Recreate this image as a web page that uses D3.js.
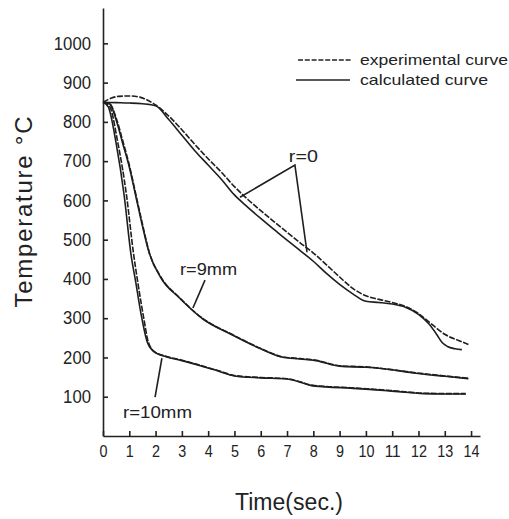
<!DOCTYPE html>
<html>
<head>
<meta charset="utf-8">
<script src="https://cdn.jsdelivr.net/npm/d3@7"></script>
<style>
  body { margin: 0; background: #fff; }
  svg text { font-family: "Liberation Sans", "DejaVu Sans", sans-serif; fill: #222; }
</style>
</head>
<body>
<div id="chart"></div>
<script>
// cooling curves
let xTicks = [0, 1, 2, 3, 4, 5, 6, 7, 8, 9, 10, 11, 12, 13, 14];
let yTicks = [100, 200, 300, 400, 500, 600, 700, 800, 900, 1000];

// r = 0 (centre)
let r0ExpTime = [0, 0.3, 0.6, 1.0, 1.4, 1.7, 2.0, 2.5, 3, 3.5, 4, 4.5, 5, 5.5, 6, 6.5, 7, 7.5, 8, 8.5, 9, 9.5, 10, 10.5, 11, 11.5, 12, 12.5, 13, 13.5, 13.9];
let r0ExpTemp = [850, 860, 865, 866, 863, 855, 843, 815, 780, 742, 706, 672, 635, 603, 574, 546, 519, 492, 466, 436, 405, 376, 357, 348, 340, 330, 312, 285, 259, 244, 233];
let r0CalcTime = [0, 0.5, 1, 1.5, 2, 2.5, 3, 3.5, 4, 4.5, 5, 5.5, 6, 6.5, 7, 7.5, 8, 8.5, 9, 9.5, 10, 10.5, 11, 11.5, 12, 12.4, 12.7, 12.9, 13.1, 13.4, 13.65];
let r0CalcTemp = [850, 849, 848, 846, 841, 806, 766, 726, 690, 654, 614, 583, 554, 526, 499, 472, 445, 414, 386, 362, 343, 340, 336, 328, 310, 285, 258, 238, 228, 222, 220];

// r = 9mm
let r9Time = [0, 0.25, 0.5, 0.75, 1.0, 1.25, 1.5, 1.75, 2.2, 2.9, 3.8, 4.9, 6.0, 6.8, 7.5, 8.1, 9.0, 10.0, 10.6, 11.9, 13.0, 13.9];
let r9CalcTemp = [850, 846, 805, 745, 685, 610, 535, 468, 403, 352, 298, 258, 222, 201, 196, 192, 178, 175, 172, 160, 152, 146];
let r9ExpTemp = [850, 847, 810, 752, 690, 615, 540, 470, 405, 353, 299, 259, 223, 202, 197, 193, 179, 176, 172, 161, 153, 147];

// r = 10mm
let r10CalcTime = [0, 0.2, 0.5, 0.8, 1.07, 1.25, 1.45, 1.67, 1.9, 2.4, 3.0, 3.7, 4.4, 5.0, 6.0, 7.0, 7.5, 7.9, 8.5, 9.4, 10.9, 12.2, 13.0, 13.8];
let r10CalcTemp = [850, 838, 745, 615, 460, 390, 310, 242, 217, 202, 192, 179, 165, 153, 148, 145, 137, 129, 125, 122, 115, 108, 107, 107];
let r10ExpTime = [0, 0.25, 0.55, 0.9, 1.15, 1.35, 1.55, 1.72, 1.95, 2.4, 3.0, 3.7, 4.4, 5.0, 6.0, 7.0, 7.5, 7.9, 8.5, 9.4, 10.9, 12.2, 13.0, 13.8];
let r10ExpTemp = [850, 840, 752, 610, 470, 380, 300, 240, 215, 203, 193, 180, 166, 154, 149, 146, 138, 130, 126, 123, 116, 109, 108, 108];

let width = 509, height = 519;

let svg = d3.select("#chart").append("svg")
    .attr("width", width)
    .attr("height", height);

let x = d3.scaleLinear()
    .domain([0, 14.34])
    .range([103, 480]);

let y = d3.scaleLinear()
    .domain([0, 1090])
    .range([436, 8]);

// axes, ticks pointing inwards
let xAxis = svg.append("g")
    .attr("transform", "translate(0," + y(0) + ")")
    .call(d3.axisBottom(x).tickValues(xTicks).tickFormat(d3.format("d"))
        .tickSize(-5).tickSizeOuter(0).tickPadding(9));

let yAxis = svg.append("g")
    .attr("transform", "translate(" + x(0) + ",0)")
    .call(d3.axisLeft(y).tickValues(yTicks).tickFormat(d3.format("d"))
        .tickSize(-5).tickSizeOuter(0).tickPadding(12));

svg.selectAll(".domain, .tick line")
    .attr("stroke", "#222")
    .attr("stroke-width", 1.6);

xAxis.selectAll(".tick text")
    .attr("font-size", 17)
    .attr("textLength", d => String(d).length * 8)
    .attr("lengthAdjust", "spacingAndGlyphs");

yAxis.selectAll(".tick text")
    .attr("font-size", 18)
    .attr("textLength", d => String(d).length * 9.3)
    .attr("lengthAdjust", "spacingAndGlyphs");

// axis titles
svg.append("text")
    .attr("transform", "translate(32,212) rotate(-90)")
    .attr("text-anchor", "middle")
    .attr("font-size", 24)
    .attr("textLength", 191)
    .attr("lengthAdjust", "spacing")
    .text("Temperature °C");

svg.append("text")
    .attr("x", 289)
    .attr("y", 510)
    .attr("text-anchor", "middle")
    .attr("font-size", 23)
    .attr("textLength", 108)
    .attr("lengthAdjust", "spacing")
    .text("Time(sec.)");

// curves
let line = d3.line()
    .x(d => x(d[0]))
    .y(d => y(d[1]))
    .curve(d3.curveMonotoneX);

let curves = [
    {t: r0CalcTime, v: r0CalcTemp, exp: false},
    {t: r0ExpTime, v: r0ExpTemp, exp: true},
    {t: r9Time, v: r9CalcTemp, exp: false},
    {t: r9Time, v: r9ExpTemp, exp: true},
    {t: r10CalcTime, v: r10CalcTemp, exp: false},
    {t: r10ExpTime, v: r10ExpTemp, exp: true}
];

svg.selectAll(".curve")
    .data(curves)
    .enter().append("path")
    .attr("class", "curve")
    .attr("fill", "none")
    .attr("stroke", "#1e1e1e")
    .attr("stroke-width", 1.6)
    .attr("stroke-dasharray", d => d.exp ? "6,1.5" : null)
    .attr("d", d => line(d.t.map((t, i) => [t, d.v[i]])));

// leader lines for the labels, in data units
let leaders = [
    [[5.21, 608], [7.30, 690], [7.76, 468]],
    [[3.88, 397], [3.42, 326]],
    [[1.98, 99], [2.24, 198]]
];

let plain = d3.line().x(d => x(d[0])).y(d => y(d[1]));

svg.selectAll(".leader")
    .data(leaders)
    .enter().append("path")
    .attr("class", "leader")
    .attr("fill", "none")
    .attr("stroke", "#1e1e1e")
    .attr("stroke-width", 1.6)
    .attr("d", plain);

let labels = [
    {text: "r=0", t: 7.07, v: 697, w: 29},
    {text: "r=9mm", t: 2.93, v: 410, w: 57},
    {text: "r=10mm", t: 0.76, v: 46, w: 69}
];

svg.selectAll(".rlabel")
    .data(labels)
    .enter().append("text")
    .attr("class", "rlabel")
    .attr("x", d => x(d.t))
    .attr("y", d => y(d.v))
    .attr("font-size", 17)
    .attr("textLength", d => d.w)
    .attr("lengthAdjust", "spacingAndGlyphs")
    .text(d => d.text);

// legend
let legend = svg.append("g");

legend.append("line")
    .attr("x1", 298).attr("x2", 352)
    .attr("y1", 60).attr("y2", 60)
    .attr("stroke", "#222")
    .attr("stroke-width", 1.4)
    .attr("stroke-dasharray", "5,1.8");

legend.append("line")
    .attr("x1", 296).attr("x2", 350)
    .attr("y1", 80).attr("y2", 80)
    .attr("stroke", "#222")
    .attr("stroke-width", 1.4);

legend.append("text")
    .attr("x", 360).attr("y", 65)
    .attr("font-size", 15)
    .attr("textLength", 148)
    .attr("lengthAdjust", "spacingAndGlyphs")
    .text("experimental curve");

legend.append("text")
    .attr("x", 360).attr("y", 85)
    .attr("font-size", 15)
    .attr("textLength", 128)
    .attr("lengthAdjust", "spacingAndGlyphs")
    .text("calculated curve");
</script>
</body>
</html>
